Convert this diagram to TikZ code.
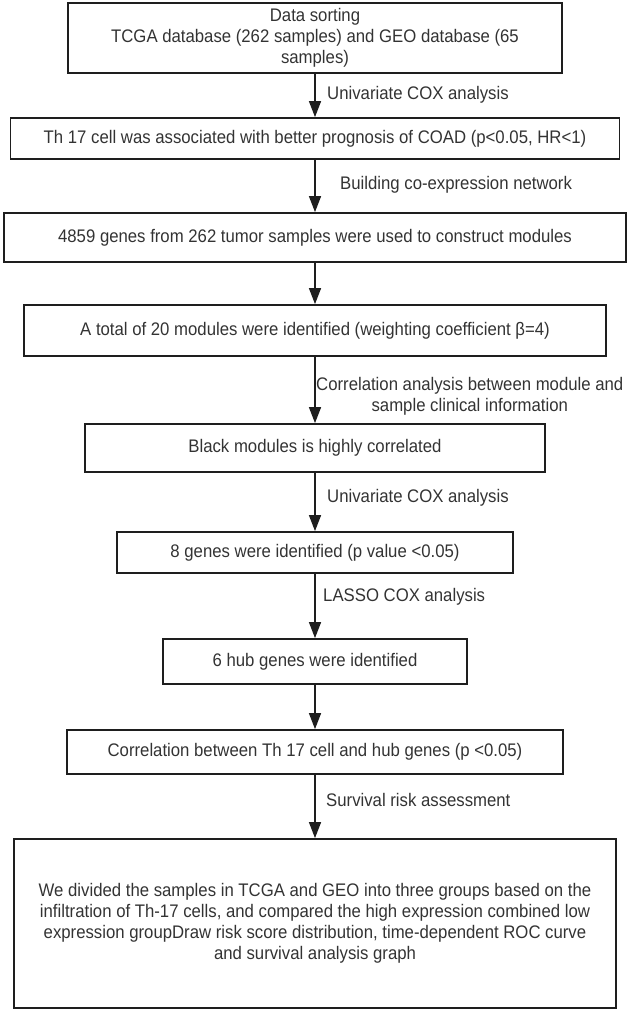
\documentclass[tikz,border=0pt]{standalone}
\usepackage{fontspec}
\setmainfont{Liberation Sans}[FakeStretch=0.92]
\usetikzlibrary{arrows.meta}
\definecolor{ink}{HTML}{1E1E1E}
\definecolor{txt}{HTML}{333333}
\newcommand{\flowfont}{\fontsize{18.2}{21}\selectfont}

\begin{document}
\begin{tikzpicture}[x=1pt,y=-1pt,
  box/.style={draw=ink,line width=1.8pt,inner sep=0pt,align=center,text=txt,font=\flowfont},
  lab/.style={anchor=west,inner sep=0pt,align=center,text=txt,font=\flowfont},
  flow/.style={draw=ink,line width=1.4pt,-{Triangle[width=12pt,length=16pt]}}]
  \useasboundingbox (0,0) rectangle (630,1013);
  \def\cx{315}   % common centre line
  % boxes
  \node[box,minimum width=494pt,minimum height=70pt] (sort) at (\cx,38)
    {Data sorting\\TCGA database (262 samples) and GEO database (65\\samples)};
  \node[box,minimum width=609pt,minimum height=41pt] (th17) at (\cx,138.5)
    {Th 17 cell was associated with better prognosis of COAD (p<0.05, HR<1)};
  \node[box,minimum width=622pt,minimum height=49pt] (genes) at (\cx,237.5)
    {4859 genes from 262 tumor samples were used to construct modules};
  \node[box,minimum width=582pt,minimum height=51pt] (mods) at (\cx,330.5)
    {A total of 20 modules were identified (weighting coefficient β=4)};
  \node[box,minimum width=460pt,minimum height=48pt] (black) at (\cx,448)
    {Black modules is highly correlated};
  \node[box,minimum width=396pt,minimum height=41pt] (eight) at (\cx,552.5)
    {8 genes were identified (p value <0.05)};
  \node[box,minimum width=304pt,minimum height=45pt] (hub) at (\cx,661.5)
    {6 hub genes were identified};
  \node[box,minimum width=496pt,minimum height=44pt] (corr) at (\cx,752)
    {Correlation between Th 17 cell and hub genes (p <0.05)};
  \node[box,minimum width=602pt,minimum height=169pt] (risk) at (\cx,923.5)
    {We divided the samples in TCGA and GEO into three groups based on the\\
     infiltration of Th-17 cells, and compared the high expression combined low\\
     expression groupDraw risk score distribution, time-dependent ROC curve\\
     and survival analysis graph};
  % arrows
  \draw[flow] (sort) -- (th17);
  \draw[flow] (th17) -- (genes);
  \draw[flow] (genes) -- (mods);
  \draw[flow] (mods) -- (black);
  \draw[flow] (black) -- (eight);
  \draw[flow] (eight) -- (hub);
  \draw[flow] (hub) -- (corr);
  \draw[flow] (corr) -- (risk);
  % arrow labels
  \node[lab] (l1) at (327,95) {Univariate COX analysis};
  \node[lab] (l2) at (340,185) {Building co-expression network};
  \node[lab] (l4) at (316,396) {Correlation analysis between module and\\sample clinical information};
  \node[lab] (l5) at (327,498) {Univariate COX analysis};
  \node[lab] (l6) at (323,597) {LASSO COX analysis};
  \node[lab] (l8) at (326,800) {Survival risk assessment};
\end{tikzpicture}
\end{document}
